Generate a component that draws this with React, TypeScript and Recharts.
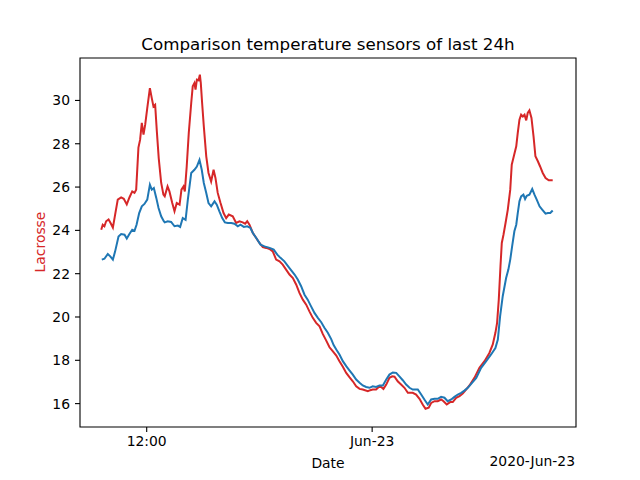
import { LineChart, Line, XAxis, YAxis, Label, ReferenceArea } from "recharts";

// hours since 2020-06-22 00:00, readings every ~10 min
const lacrosseHours = [
  9.58, 9.66, 9.75, 9.84, 9.97, 10.07, 10.2, 10.32, 10.46, 10.64, 10.78, 10.94, 11.08, 11.23, 11.35, 11.44,
  11.56, 11.65, 11.74, 11.83, 11.92, 12.03, 12.17, 12.27, 12.36, 12.45, 12.54, 12.64, 12.77, 12.89, 12.96,
  13.11, 13.21, 13.36, 13.48, 13.6, 13.75, 13.85, 13.96, 14.03, 14.13, 14.24, 14.37, 14.45, 14.54, 14.6,
  14.67, 14.76, 14.83, 14.88, 14.95, 15.04, 15.17, 15.29, 15.43, 15.56, 15.66, 15.78, 15.93, 16.09, 16.23,
  16.37, 16.58, 16.76, 16.94, 17.11, 17.24, 17.35, 17.47, 17.65, 17.83, 18.0, 18.18, 18.36, 18.54, 18.71,
  18.89, 19.07, 19.24, 19.42, 19.6, 19.78, 19.96, 20.13, 20.31, 20.49, 20.66, 20.84, 21.02, 21.2, 21.37,
  21.55, 21.73, 21.9, 22.09, 22.26, 22.44, 22.62, 22.79, 22.97, 23.15, 23.33, 23.5, 23.77, 23.9, 24.03,
  24.21, 24.35, 24.48, 24.6, 24.75, 24.92, 25.07, 25.19, 25.36, 25.54, 25.72, 25.9, 26.16, 26.34, 26.52,
  26.69, 26.84, 27.01, 27.14, 27.32, 27.49, 27.67, 27.8, 27.97, 28.15, 28.29, 28.47, 28.65, 28.82, 29.0,
  29.18, 29.45, 29.71, 29.98, 30.24, 30.42, 30.56, 30.65, 30.74, 30.83, 30.9, 30.99, 31.1, 31.22, 31.35,
  31.43, 31.54, 31.67, 31.75, 31.84, 31.93, 32.02, 32.11, 32.2, 32.28, 32.37, 32.48, 32.59, 32.69, 32.82,
  32.94, 33.08, 33.23, 33.4, 33.61,
];
const lacrosseTemps = [
  24.03, 24.26, 24.19, 24.42, 24.5, 24.35, 24.13, 24.73, 25.42, 25.52, 25.46, 25.2, 25.52, 25.8, 25.73, 25.88,
  27.82, 28.19, 28.96, 28.42, 28.88, 29.65, 30.57, 30.11, 29.72, 29.8, 28.57, 27.34, 26.2, 25.65, 25.57,
  26.03, 25.8, 25.26, 24.88, 25.26, 25.19, 25.88, 26.03, 25.8, 26.95, 28.5, 29.88, 30.65, 30.8, 30.5,
  30.96, 30.93, 31.19, 30.8, 29.88, 28.8, 27.42, 26.65, 26.26, 26.8, 26.42, 25.73, 25.26, 24.8, 24.57,
  24.73, 24.65, 24.34, 24.42, 24.37, 24.31, 24.42, 24.26, 23.88, 23.65, 23.42, 23.23, 23.19, 23.14, 23.03,
  22.65, 22.57, 22.42, 22.19, 21.96, 21.8, 21.49, 21.11, 20.8, 20.57, 20.26, 19.96, 19.73, 19.57, 19.22,
  18.92, 18.6, 18.42, 18.22, 17.96, 17.7, 17.42, 17.22, 17.03, 16.8, 16.68, 16.65, 16.57, 16.62, 16.65,
  16.65, 16.77, 16.77, 16.68, 16.88, 17.19, 17.26, 17.24, 17.03, 16.88, 16.73, 16.5, 16.5, 16.42, 16.22,
  15.96, 15.76, 15.81, 16.03, 16.11, 16.11, 16.19, 16.11, 15.96, 16.07, 16.07, 16.27, 16.34, 16.47, 16.65,
  16.84, 17.2, 17.65, 17.96, 18.34, 18.73, 19.27, 19.73, 20.8, 22.34, 23.42, 23.8, 24.34, 24.96, 25.88,
  27.03, 27.42, 27.88, 28.5, 29.11, 29.34, 29.26, 29.34, 29.08, 29.42, 29.54, 29.19, 28.34, 27.42, 27.19,
  26.95, 26.65, 26.42, 26.31, 26.31,
];

const otherHours = [
  9.61, 9.75, 9.93, 10.06, 10.2, 10.32, 10.5, 10.64, 10.82, 10.94, 11.08, 11.23, 11.35, 11.46, 11.6, 11.74,
  11.88, 12.03, 12.17, 12.27, 12.38, 12.51, 12.63, 12.77, 12.91, 12.96, 13.12, 13.3, 13.48, 13.66, 13.78,
  13.92, 14.07, 14.19, 14.37, 14.54, 14.67, 14.81, 14.93, 15.04, 15.17, 15.29, 15.43, 15.61, 15.73, 15.87,
  16.02, 16.16, 16.32, 16.5, 16.67, 16.85, 16.99, 17.17, 17.35, 17.52, 17.65, 17.83, 18.06, 18.27, 18.54,
  18.76, 18.95, 19.12, 19.33, 19.6, 19.87, 20.04, 20.22, 20.4, 20.57, 20.75, 20.93, 21.11, 21.29, 21.46,
  21.64, 21.82, 21.95, 22.09, 22.26, 22.44, 22.62, 22.79, 22.97, 23.15, 23.33, 23.5, 23.68, 23.86, 24.03,
  24.21, 24.39, 24.57, 24.75, 24.92, 25.1, 25.28, 25.45, 25.63, 25.81, 25.99, 26.16, 26.43, 26.61, 26.78,
  26.96, 27.14, 27.32, 27.49, 27.67, 27.85, 28.02, 28.21, 28.38, 28.56, 28.74, 28.91, 29.09, 29.54, 29.8,
  30.07, 30.33, 30.56, 30.69, 30.81, 30.95, 31.13, 31.25, 31.35, 31.45, 31.57, 31.67, 31.75, 31.84, 31.93,
  32.05, 32.14, 32.23, 32.37, 32.52, 32.64, 32.76, 32.91, 33.05, 33.23, 33.35, 33.48, 33.61,
];
const otherTemps = [
  22.65, 22.69, 22.91, 22.8, 22.65, 23.03, 23.72, 23.83, 23.8, 23.62, 23.83, 24.03, 23.98, 24.26, 24.8, 25.11,
  25.22, 25.42, 26.11, 25.88, 25.96, 25.5, 25.03, 24.65, 24.42, 24.37, 24.42, 24.39, 24.19, 24.22, 24.16,
  24.57, 24.49, 25.42, 26.65, 26.8, 26.95, 27.26, 26.8, 26.19, 25.73, 25.26, 25.11, 25.34, 25.19, 24.88,
  24.57, 24.37, 24.34, 24.34, 24.31, 24.19, 24.26, 24.16, 24.19, 24.11, 23.88, 23.65, 23.34, 23.26, 23.19,
  23.11, 22.88, 22.73, 22.57, 22.26, 21.96, 21.73, 21.42, 21.03, 20.8, 20.49, 20.19, 19.96, 19.76, 19.5,
  19.27, 18.98, 18.7, 18.5, 18.27, 17.96, 17.73, 17.54, 17.34, 17.11, 16.96, 16.84, 16.77, 16.73, 16.8,
  16.77, 16.84, 16.84, 17.11, 17.34, 17.44, 17.42, 17.26, 17.08, 16.88, 16.73, 16.65, 16.65, 16.42, 16.19,
  15.96, 16.19, 16.22, 16.22, 16.31, 16.27, 16.11, 16.19, 16.31, 16.42, 16.5, 16.6, 16.73, 17.19, 17.65,
  17.96, 18.27, 18.57, 18.96, 20.03, 20.96, 21.8, 22.19, 22.65, 23.26, 23.96, 24.26, 24.8, 25.34, 25.57,
  25.65, 25.45, 25.6, 25.65, 25.91, 25.65, 25.42, 25.11, 24.96, 24.77, 24.8, 24.8, 24.92,
];

const xTicks = [12, 24];
const xTickLabels = ["12:00", "Jun-23"];
const yTicks = [16, 18, 20, 22, 24, 26, 28, 30];

const TITLE = "Comparison temperature sensors of last 24h";
const X_LABEL = "Date";
const X_OFFSET_LABEL = "2020-Jun-23";
const Y_LABEL = "Lacrosse";

const RED = "#d62728";
const BLUE = "#1f77b4";
const FONT = "'DejaVu Sans', sans-serif";

const xDomain = [8.45, 34.85];
const yDomain = [14.92, 31.96];

const lacrosseData = lacrosseHours.map((t, i) => ({ t, v: lacrosseTemps[i] }));
const otherData = otherHours.map((t, i) => ({ t, v: otherTemps[i] }));

export default function App() {
  const tickStyle = { fontSize: 13.9, fill: "#000", fontFamily: FONT };

  return (
    <div style={{ width: 640, height: 480 }}>
      <style>{`body { margin: 0; }`}</style>
      <LineChart width={640} height={480} margin={{ top: 58, right: 64, bottom: 0, left: 0 }}>
        <XAxis
          dataKey="t"
          type="number"
          domain={xDomain}
          allowDataOverflow
          ticks={xTicks}
          tickFormatter={(v: number) => xTickLabels[xTicks.indexOf(v)] ?? ""}
          height={53}
          tickSize={5}
          tickMargin={4}
          tick={tickStyle}
          stroke="#000"
          axisLine={false}
          tickLine={{ stroke: "#000", strokeWidth: 1.1 }}
        >
          <Label
            content={({ viewBox }: any) => (
              <g style={{ fontFamily: FONT, fontSize: 13.9 }}>
                <text x={viewBox.x + viewBox.width / 2} y={viewBox.y + 41} textAnchor="middle" fill="#000">
                  {X_LABEL}
                </text>
                <text x={viewBox.x + viewBox.width - 1} y={viewBox.y + 39} textAnchor="end" fill="#000">
                  {X_OFFSET_LABEL}
                </text>
              </g>
            )}
          />
        </XAxis>
        <YAxis
          type="number"
          domain={yDomain}
          allowDataOverflow
          ticks={yTicks}
          width={80}
          tickSize={5}
          tickMargin={5}
          tick={tickStyle}
          axisLine={false}
          tickLine={{ stroke: "#000", strokeWidth: 1.1 }}
        >
          <Label
            content={() => (
              <text
                x={40}
                y={242}
                transform="rotate(-90 40 242)"
                textAnchor="middle"
                dominantBaseline="central"
                fill={RED}
                style={{ fontFamily: FONT, fontSize: 13.9 }}
              >
                {Y_LABEL}
              </text>
            )}
          />
        </YAxis>
        <Line
          data={lacrosseData}
          dataKey="v"
          type="linear"
          stroke={RED}
          strokeWidth={2}
          dot={false}
          isAnimationActive={false}
        />
        <Line
          data={otherData}
          dataKey="v"
          type="linear"
          stroke={BLUE}
          strokeWidth={2}
          dot={false}
          isAnimationActive={false}
        />
        {/* axes frame + title */}
        <ReferenceArea
          x1={xDomain[0]}
          x2={xDomain[1]}
          y1={yDomain[0]}
          y2={yDomain[1]}
          fill="none"
          fillOpacity={0}
          stroke="#000"
          strokeWidth={1.1}
          strokeOpacity={1}
          ifOverflow="visible"
        >
          <Label
            content={({ viewBox }: any) => (
              <text
                x={viewBox.x + viewBox.width / 2}
                y={viewBox.y - 8}
                textAnchor="middle"
                fill="#000"
                style={{ fontFamily: FONT, fontSize: 16.7 }}
              >
                {TITLE}
              </text>
            )}
          />
        </ReferenceArea>
      </LineChart>
    </div>
  );
}
